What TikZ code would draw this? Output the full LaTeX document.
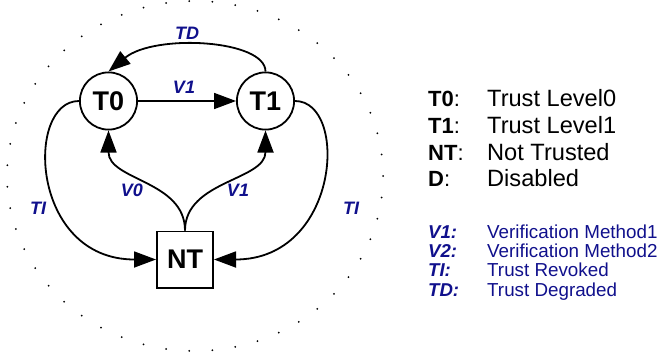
\documentclass[tikz,border=0pt]{standalone}
\usepackage{fontspec}
\setmainfont{Liberation Sans}
\usetikzlibrary{positioning, arrows.meta}
\definecolor{lblblue}{RGB}{16,16,140}
\tikzset{
  state/.style={circle, draw, line width=1.8pt, minimum size=57.2pt, inner sep=0pt,
    font=\fontsize{27}{27}\selectfont\bfseries},
  ntbox/.style={rectangle, draw, line width=1.8pt, minimum size=56.2pt, inner sep=0pt,
    font=\fontsize{27}{27}\selectfont\bfseries},
  trans/.style={line width=1.8pt, -{Triangle[length=22pt,width=16pt]}},
  elabel/.style={text=lblblue, inner sep=0pt, font=\fontsize{18}{18}\selectfont\bfseries\itshape},
  keytxt/.style={anchor=base west, inner sep=0pt, font=\fontsize{22}{22}\selectfont},
  desctxt/.style={anchor=base west, inner sep=0pt, font=\fontsize{23.6}{23.6}\selectfont},
  bkeytxt/.style={anchor=base west, inner sep=0pt, text=lblblue, font=\fontsize{18.6}{18.6}\selectfont\bfseries\itshape},
  bdesctxt/.style={anchor=base west, inner sep=0pt, text=lblblue, font=\fontsize{18.8}{18.8}\selectfont}
}
\begin{document}
\begin{tikzpicture}[x=1pt,y=-1pt]
    \useasboundingbox (0,0) rectangle (661,356);
    %anello puntinato
    \foreach \a in {0,1,...,50}
        \fill ({195+188*cos(\a*7.0588)},{176+175*sin(\a*7.0588)}) circle (1pt);
    %stati
    \node[state] (T0) at (108.5,101) {T0};
    \node[state] (T1) at (265.5,101) {T1};
    \node[ntbox] (NT) at (185,259.5) {NT};
    %transizioni
    \draw[trans] (T0) -- (T1);
    \draw[trans] (T1.north) .. controls +(0,-32) and +(46,-38) .. (T0.north);
    \draw[trans] (NT.north) .. controls +(0,-50) and +(0,50) .. (T0.south);
    \draw[trans] (NT.north) .. controls +(0,-50) and +(0,50) .. (T1.south);
    \draw[trans] (T0.west) .. controls +(-54,0) and +(-126,0) .. (NT.west);
    \draw[trans] (T1.east) .. controls +(54,0) and +(126,0) .. (NT.east);
    %etichette
    \node[elabel] (lTD) at (187,33) {TD};
    \node[elabel] (lV1a) at (184,87) {V1};
    \node[elabel] (lV0) at (132,190) {V0};
    \node[elabel] (lV1b) at (238,190) {V1};
    \node[elabel] (lTIa) at (38,208) {TI};
    \node[elabel] (lTIb) at (351,208) {TI};
    %legenda stati
    \node[keytxt] (kT0) at (428,106.7) {\textbf{T0}:};
    \node[desctxt] (dT0) at (487,106.7) {Trust Level0};
    \node[keytxt] (kT1) at (428,133.3) {\textbf{T1}:};
    \node[desctxt] (dT1) at (487,133.3) {Trust Level1};
    \node[keytxt] (kNT) at (428,160) {\textbf{NT}:};
    \node[desctxt] (dNT) at (487,160) {Not Trusted};
    \node[keytxt] (kD) at (428,186.7) {\textbf{D}:};
    \node[desctxt] (dD) at (487,186.7) {Disabled};
    %legenda transizioni
    \node[bkeytxt] (kV1) at (428,238.3) {V1:};
    \node[bdesctxt] (dV1) at (487,238.3) {Verification Method1};
    \node[bkeytxt] (kV2) at (428,257.5) {V2:};
    \node[bdesctxt] (dV2) at (487,257.5) {Verification Method2};
    \node[bkeytxt] (kTI) at (428,276.7) {TI:};
    \node[bdesctxt] (dTI) at (487,276.7) {Trust Revoked};
    \node[bkeytxt] (kTD) at (428,296) {TD:};
    \node[bdesctxt] (dTD) at (487,296) {Trust Degraded};
\end{tikzpicture}
\end{document}
